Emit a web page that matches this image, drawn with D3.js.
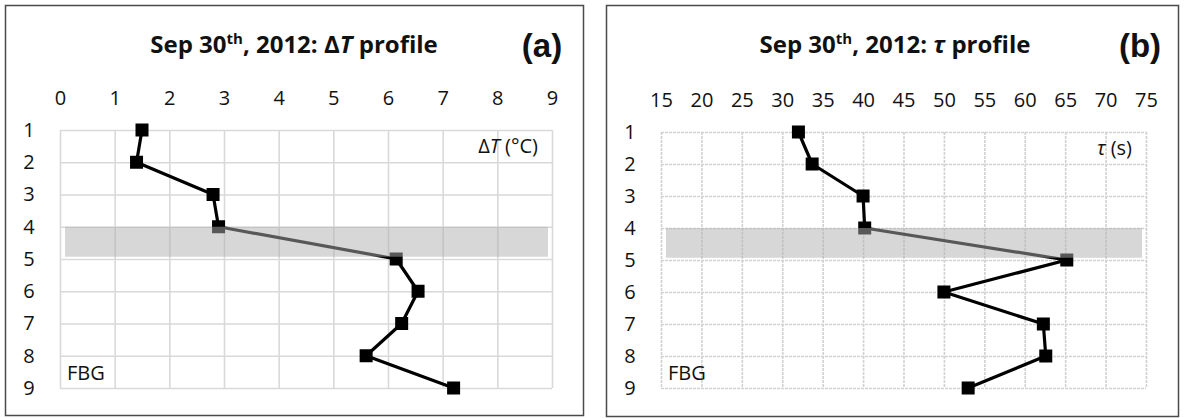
<!DOCTYPE html>
<html>
<head>
<meta charset="utf-8">
<script src="https://cdn.jsdelivr.net/npm/d3@7"></script>
<style>
  html, body { margin: 0; padding: 0; background: #fff; }
  svg { display: block; }
  text { font-family: "Open Sans", "Noto Sans", sans-serif; fill: #111; }
</style>
</head>
<body>
<svg id="chart" width="1184" height="418"></svg>
<script>
// Sensor depth index (FBG number, 1 = top)
const depths = [1, 2, 3, 4, 5, 6, 7, 8, 9];
// ΔT per sensor (°C)
const deltaT = [1.5, 1.4, 2.8, 2.9, 6.15, 6.55, 6.25, 5.6, 7.2];
// τ per sensor (s)
const tau = [32, 33.7, 40, 40.2, 65.2, 50, 62.3, 62.6, 53];
// Axis tick labels
const deltaTTicks = [0, 1, 2, 3, 4, 5, 6, 7, 8, 9];
const tauTicks = [15, 20, 25, 30, 35, 40, 45, 50, 55, 60, 65, 70, 75];
const depthTicks = [1, 2, 3, 4, 5, 6, 7, 8, 9];
// Shaded depth band between sensors 4 and 5
const bandDepths = [4, 4.93];

const svg = d3.select("#chart");
const labelSize = 20;

function drawPanel(opts) {
  const g = svg.append("g");
  // outer frame
  g.append("rect")
    .attr("x", opts.frame[0] + 0.5).attr("y", opts.frame[1] + 0.5)
    .attr("width", opts.frame[2]).attr("height", opts.frame[3])
    .attr("fill", "#fff").attr("stroke", "#4a4a4a").attr("stroke-width", 1.5);

  const x = d3.scaleLinear().domain(opts.xDomain).range(opts.xRange);
  const y = d3.scaleLinear().domain([1, 9]).range(opts.yRange);

  // vertical grid
  g.append("g")
    .attr("transform", `translate(0,${opts.yRange[0]})`)
    .call(d3.axisTop(x).tickValues(opts.xTicks).tickSize(-(opts.yRange[1] - opts.yRange[0])).tickFormat(""))
    .call(a => a.select(".domain").remove())
    .call(a => a.selectAll("line").attr("stroke", opts.gridColor).attr("stroke-width", 1.6)
      .attr("stroke-dasharray", opts.gridDash));
  // horizontal grid
  g.append("g")
    .attr("transform", `translate(${opts.xRange[0]},0)`)
    .call(d3.axisLeft(y).tickValues(depthTicks).tickSize(-(opts.xRange[1] - opts.xRange[0])).tickFormat(""))
    .call(a => a.select(".domain").remove())
    .call(a => a.selectAll("line").attr("stroke", opts.gridColor).attr("stroke-width", 1.6)
      .attr("stroke-dasharray", opts.gridDash));

  // top tick labels
  g.append("g")
    .attr("transform", `translate(0,${opts.yRange[0] - 25})`)
    .call(d3.axisTop(x).tickValues(opts.xTicks).tickSize(0).tickPadding(0))
    .call(a => a.select(".domain").remove())
    .call(a => a.selectAll("text").attr("font-size", labelSize).attr("fill", "#111")
      .style("font-family", "'Open Sans', sans-serif"));
  // left tick labels
  g.append("g")
    .attr("transform", `translate(${opts.xRange[0] - opts.yLabelGap},0)`)
    .call(d3.axisLeft(y).tickValues(depthTicks).tickSize(0).tickPadding(0))
    .call(a => a.select(".domain").remove())
    .call(a => a.selectAll("text").attr("font-size", labelSize).attr("fill", "#111").attr("text-anchor", "middle")
      .style("font-family", "'Open Sans', sans-serif"));

  // profile line
  const pts = depths.map((d, i) => [x(opts.values[i]), y(d)]);
  g.append("path")
    .attr("d", d3.line()(pts))
    .attr("fill", "none").attr("stroke", "#000").attr("stroke-width", 3.2)
    .attr("stroke-linejoin", "round");
  // square markers
  g.selectAll("rect.marker").data(pts).join("rect")
    .attr("class", "marker")
    .attr("x", d => d[0] - 6.5).attr("y", d => d[1] - 6.5)
    .attr("width", 13).attr("height", 13).attr("fill", "#000");

  // translucent shaded band over the line
  g.append("rect")
    .attr("x", opts.xRange[0] + 5).attr("y", y(bandDepths[0]))
    .attr("width", opts.xRange[1] - opts.xRange[0] - 9)
    .attr("height", y(bandDepths[1]) - y(bandDepths[0]))
    .attr("fill", "rgb(175,175,175)").attr("fill-opacity", 0.5);

  // title
  const t = g.append("text")
    .attr("x", opts.titleX).attr("y", 53)
    .attr("text-anchor", "middle")
    .attr("font-size", 24).attr("font-weight", "bold");
  t.append("tspan").text("Sep 30");
  t.append("tspan").text("th").attr("font-size", 15).attr("dy", -9);
  t.append("tspan").text(", 2012: ").attr("dy", 9);
  opts.titleVar(t);
  t.append("tspan").text(" profile");

  // panel letter
  g.append("text")
    .attr("x", opts.letterX).attr("y", 57)
    .attr("text-anchor", "middle")
    .attr("font-size", 33).attr("font-weight", "bold")
    .style("font-family", "'Liberation Sans', Arial, sans-serif")
    .text(opts.letter);

  // unit label inside the plot
  const u = g.append("text")
    .attr("x", opts.xRange[1] - 14).attr("y", y(1.5) + 7)
    .attr("text-anchor", "end").attr("font-size", labelSize);
  opts.unitLabel(u);

  // sensor type label
  g.append("text")
    .attr("x", opts.xRange[0] + 7).attr("y", y(8.5) + 8)
    .attr("font-size", labelSize).text("FBG");
}

drawPanel({
  frame: [5, 5, 578, 410],
  xDomain: [0, 9], xRange: [60, 552], yRange: [130, 388],
  xTicks: deltaTTicks, values: deltaT,
  gridColor: "#d9d9d9", gridDash: null, yLabelGap: 31,
  titleX: 294, letterX: 542, letter: "(a)",
  titleVar: t => { t.append("tspan").text("Δ"); t.append("tspan").text("T").attr("font-style", "italic"); },
  unitLabel: u => { u.append("tspan").text("Δ"); u.append("tspan").text("T").attr("font-style", "italic"); u.append("tspan").text(" (°C)"); }
});

drawPanel({
  frame: [606, 5, 572, 411],
  xDomain: [15, 75], xRange: [661, 1146], yRange: [132, 388],
  xTicks: tauTicks, values: tau,
  gridColor: "#d2d2d2", gridDash: "3,1", yLabelGap: 31,
  titleX: 895, letterX: 1140, letter: "(b)",
  titleVar: t => { t.append("tspan").text("τ").attr("font-style", "italic"); },
  unitLabel: u => { u.append("tspan").text("τ").attr("font-style", "italic"); u.append("tspan").text(" (s)"); }
});
</script>
</body>
</html>
